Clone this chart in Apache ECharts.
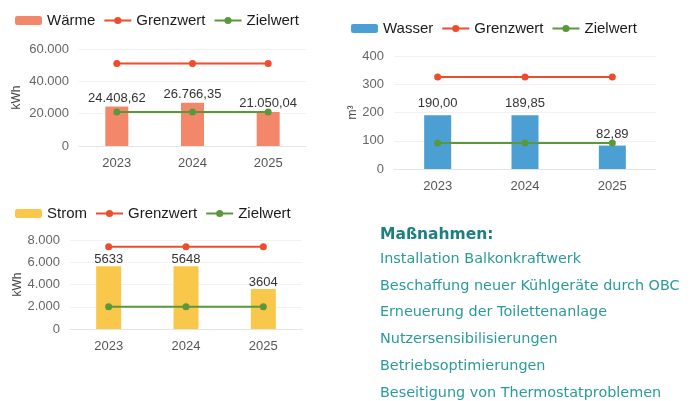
<!DOCTYPE html>
<html>
<head>
<meta charset="utf-8">
<script src="https://cdn.jsdelivr.net/npm/echarts@6/dist/echarts.min.js"></script>
<style>
  html, body { margin: 0; padding: 0; background: #fff; }
  #main { width: 692px; height: 401px; }
</style>
</head>
<body>
<div id="main"></div>
<script>
var years = ['2023', '2024', '2025'];

var waerme = [24408.62, 26766.35, 21050.04];
var waermeGrenz = [51000, 51000, 51000];
var waermeZiel = [21000, 21000, 21000];

var wasser = [190.00, 189.85, 82.89];
var wasserGrenz = [326, 326, 326];
var wasserZiel = [92, 92, 92];

var strom = [5633, 5648, 3604];
var stromGrenz = [7400, 7400, 7400];
var stromZiel = [2000, 2000, 2000];

var massnahmen = [
    'Installation Balkonkraftwerk',
    'Beschaffung neuer Kühlgeräte durch OBC',
    'Erneuerung der Toilettenanlage',
    'Nutzersensibilisierungen',
    'Betriebsoptimierungen',
    'Beseitigung von Thermostatproblemen'
];

var RED = '#ee4d2d';
var GREEN = '#5b983c';
var FONT = 'Arial, "Liberation Sans", sans-serif';

// deutsches Zahlenformat
function deNum(v, dec) {
    var parts = v.toFixed(dec).split('.');
    parts[0] = parts[0].replace(/\B(?=(\d{3})+(?!\d))/g, '.');
    return parts.join(',');
}

function xAxis(idx) {
    return {
        type: 'category',
        gridIndex: idx,
        data: years,
        axisTick: { show: false },
        axisLine: { lineStyle: { color: '#e4e4e4' } },
        axisLabel: { color: '#555', fontSize: 13, margin: 11, fontFamily: FONT }
    };
}

function yAxis(idx, max, interval, name, gap) {
    return {
        type: 'value',
        gridIndex: idx,
        min: 0,
        max: max,
        interval: interval,
        name: name,
        nameLocation: 'middle',
        nameGap: gap,
        nameTextStyle: { color: '#444', fontSize: 12, fontFamily: FONT },
        axisLine: { show: false },
        axisTick: { show: false },
        splitLine: { lineStyle: { color: '#f2f2f2' } },
        axisLabel: {
            color: '#666', fontSize: 13, margin: 10, fontFamily: FONT,
            formatter: function(v) { return deNum(v, 0); }
        }
    };
}

function barSeries(name, idx, data, color, width, dec, dist) {
    return {
        name: name,
        type: 'bar',
        xAxisIndex: idx,
        yAxisIndex: idx,
        data: data,
        barWidth: width,
        itemStyle: { color: color },
        label: {
            show: true,
            position: 'top',
            distance: dist,
            color: '#333',
            fontSize: 13,
            fontFamily: FONT,
            formatter: function(p) { return dec < 0 ? String(p.value) : deNum(p.value, dec); }
        }
    };
}

function lineSeries(name, idx, data, color) {
    return {
        name: name,
        type: 'line',
        xAxisIndex: idx,
        yAxisIndex: idx,
        data: data,
        symbol: 'circle',
        symbolSize: 7,
        lineStyle: { color: color, width: 2 },
        itemStyle: { color: color },
        z: 5
    };
}

function legend(left, top, barName) {
    return {
        left: left,
        top: top,
        padding: 0,
        itemWidth: 27,
        itemHeight: 9,
        itemGap: 8,
        textStyle: { color: '#1a1a1a', fontSize: 15, fontFamily: FONT },
        data: [barName, 'Grenzwert', 'Zielwert']
    };
}

var graphics = [{
    type: 'text',
    left: 380,
    top: 227,
    style: {
        text: 'Maßnahmen:',
        fill: '#1c7f80',
        font: 'bold 15.5px "DejaVu Sans", Verdana, sans-serif'
    }
}];
for (var i = 0; i < massnahmen.length; i++) {
    graphics.push({
        type: 'text',
        left: 380,
        top: 252 + i * 26.8,
        style: {
            text: massnahmen[i],
            fill: '#2b9a9a',
            font: '14.4px "DejaVu Sans", Verdana, sans-serif'
        }
    });
}

var chart = echarts.init(document.getElementById('main'));
chart.setOption({
    backgroundColor: '#ffffff',
    animation: false,
    legend: [
        legend(15, 13, 'Wärme'),
        legend(351, 21, 'Wasser'),
        legend(15, 206, 'Strom')
    ],
    grid: [
        { left: 79, right: 386, top: 49, bottom: 255 },
        { left: 394, right: 36, top: 56, bottom: 232 },
        { left: 70, right: 390, top: 240, bottom: 72 }
    ],
    xAxis: [xAxis(0), xAxis(1), xAxis(2)],
    yAxis: [
        yAxis(0, 60000, 20000, 'kWh', 56),
        yAxis(1, 400, 100, 'm³', 34),
        yAxis(2, 8000, 2000, 'kWh', 46)
    ],
    series: [
        barSeries('Wärme', 0, waerme, '#f2876a', 23, 2, 2),
        lineSeries('Grenzwert', 0, waermeGrenz, RED),
        lineSeries('Zielwert', 0, waermeZiel, GREEN),
        barSeries('Wasser', 1, wasser, '#4b9fd2', 27, 2, 5),
        lineSeries('Grenzwert', 1, wasserGrenz, RED),
        lineSeries('Zielwert', 1, wasserZiel, GREEN),
        barSeries('Strom', 2, strom, '#f9c74a', 25, -1, 0),
        lineSeries('Grenzwert', 2, stromGrenz, RED),
        lineSeries('Zielwert', 2, stromZiel, GREEN)
    ],
    graphic: graphics
});
</script>
</body>
</html>
